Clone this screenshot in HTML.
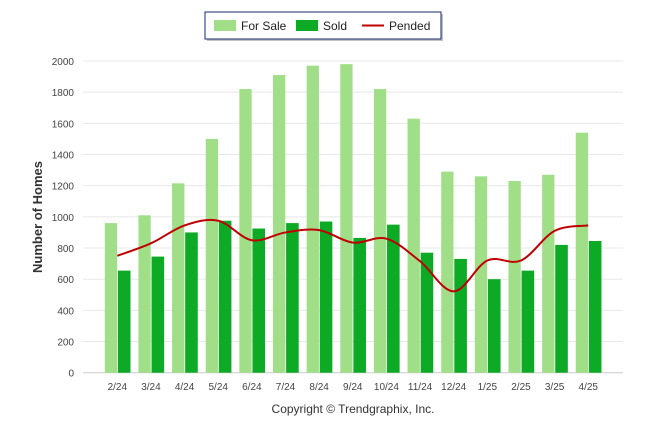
<!DOCTYPE html>
<html><head><meta charset="utf-8"><style>
body{margin:0;background:#fff;font-family:"Liberation Sans",sans-serif}
svg text{font-family:"Liberation Sans",sans-serif}
</style></head><body>
<svg id="c" width="646" height="434">
<g>
<rect x="207" y="14" width="236" height="27" fill="#888" opacity="0.5"/>
<rect x="205" y="12" width="236" height="27" fill="#fff" stroke="#1a2a6c" stroke-width="1"/>
<rect x="214" y="20" width="22" height="11" fill="#a0df88"/>
<text x="241" y="30" font-size="12" fill="#222">For Sale</text>
<rect x="296" y="20" width="22" height="11" fill="#0daa26"/>
<text x="323" y="30" font-size="12" fill="#222">Sold</text>
<line x1="362" y1="25.5" x2="384" y2="25.5" stroke="#c00000" stroke-width="2"/>
<text x="389" y="30" font-size="12" fill="#222">Pended</text>
</g>
<text transform="translate(42,217) rotate(-90)" text-anchor="middle" font-size="13" font-weight="bold" fill="#333">Number of Homes</text>
<text x="353" y="413" text-anchor="middle" font-size="12" fill="#333">Copyright © Trendgraphix, Inc.</text>
<g id="grid"></g><g id="bars"></g><g id="line"></g><g id="axes"></g>
</svg>
<script>
const categories=["2/24","3/24","4/24","5/24","6/24","7/24","8/24","9/24","10/24","11/24","12/24","1/25","2/25","3/25","4/25"];
const forSale=[960,1010,1215,1500,1820,1910,1970,1980,1820,1630,1290,1260,1230,1270,1540];
const sold=[655,745,900,975,925,960,970,865,950,770,730,600,655,820,845];
const pended=[750,830,945,975,850,900,915,835,860,715,522,720,720,910,945];
const yTicks=[0,200,400,600,800,1000,1200,1400,1600,1800,2000];
const NS='http://www.w3.org/2000/svg';
const y0=372.7,yScale=(372.7-61)/2000;
const Y=v=>y0-v*yScale;
const X=i=>117.3+i*33.64;
function mk(tag,attrs,parent){const e=document.createElementNS(NS,tag);for(const k in attrs)e.setAttribute(k,attrs[k]);parent.appendChild(e);return e;}
const grid=document.getElementById('grid'),bars=document.getElementById('bars'),line=document.getElementById('line'),axes=document.getElementById('axes');
yTicks.forEach(t=>{
 const l=mk('line',{x1:83,x2:623,y1:Y(t),y2:Y(t),stroke:t===0?'#ccc':'#e8e8e8','stroke-width':1},grid);
 
 
 const tx=mk('text',{x:74,y:Y(t)+4,'text-anchor':'end','font-size':10,fill:'#444'},axes);
 tx.textContent=t;
 
 
});
categories.forEach((c,i)=>{
 const cx=X(i);
 const b1=mk('rect',{x:cx-12.5,y:Y(forSale[i]),width:12.3,height:Y(0)-Y(forSale[i]),fill:'#a0df88'},bars);
 
 
 const b2=mk('rect',{x:cx+0.6,y:Y(sold[i]),width:12.6,height:Y(0)-Y(sold[i]),fill:'#0daa26'},bars);
 
 
 const tx=mk('text',{x:cx,y:390,'text-anchor':'middle','font-size':10,fill:'#444'},axes);
 tx.textContent=c;
 
 
});
const pts=pended.map((v,i)=>[X(i),Y(v)]);
let d='M'+pts[0][0]+','+pts[0][1];
for(let i=0;i<pts.length-1;i++){
 const p0=pts[i-1]||pts[i],p1=pts[i],p2=pts[i+1],p3=pts[i+2]||p2;
 const k=1/6;
 d+=' C'+(p1[0]+(p2[0]-p0[0])*k)+','+(p1[1]+(p2[1]-p0[1])*k)+' '+(p2[0]-(p3[0]-p1[0])*k)+','+(p2[1]-(p3[1]-p1[1])*k)+' '+p2[0]+','+p2[1];
}
const pl=mk('path',{d:d,fill:'none',stroke:'#c00000','stroke-width':2},line);


</script>
</body></html>
